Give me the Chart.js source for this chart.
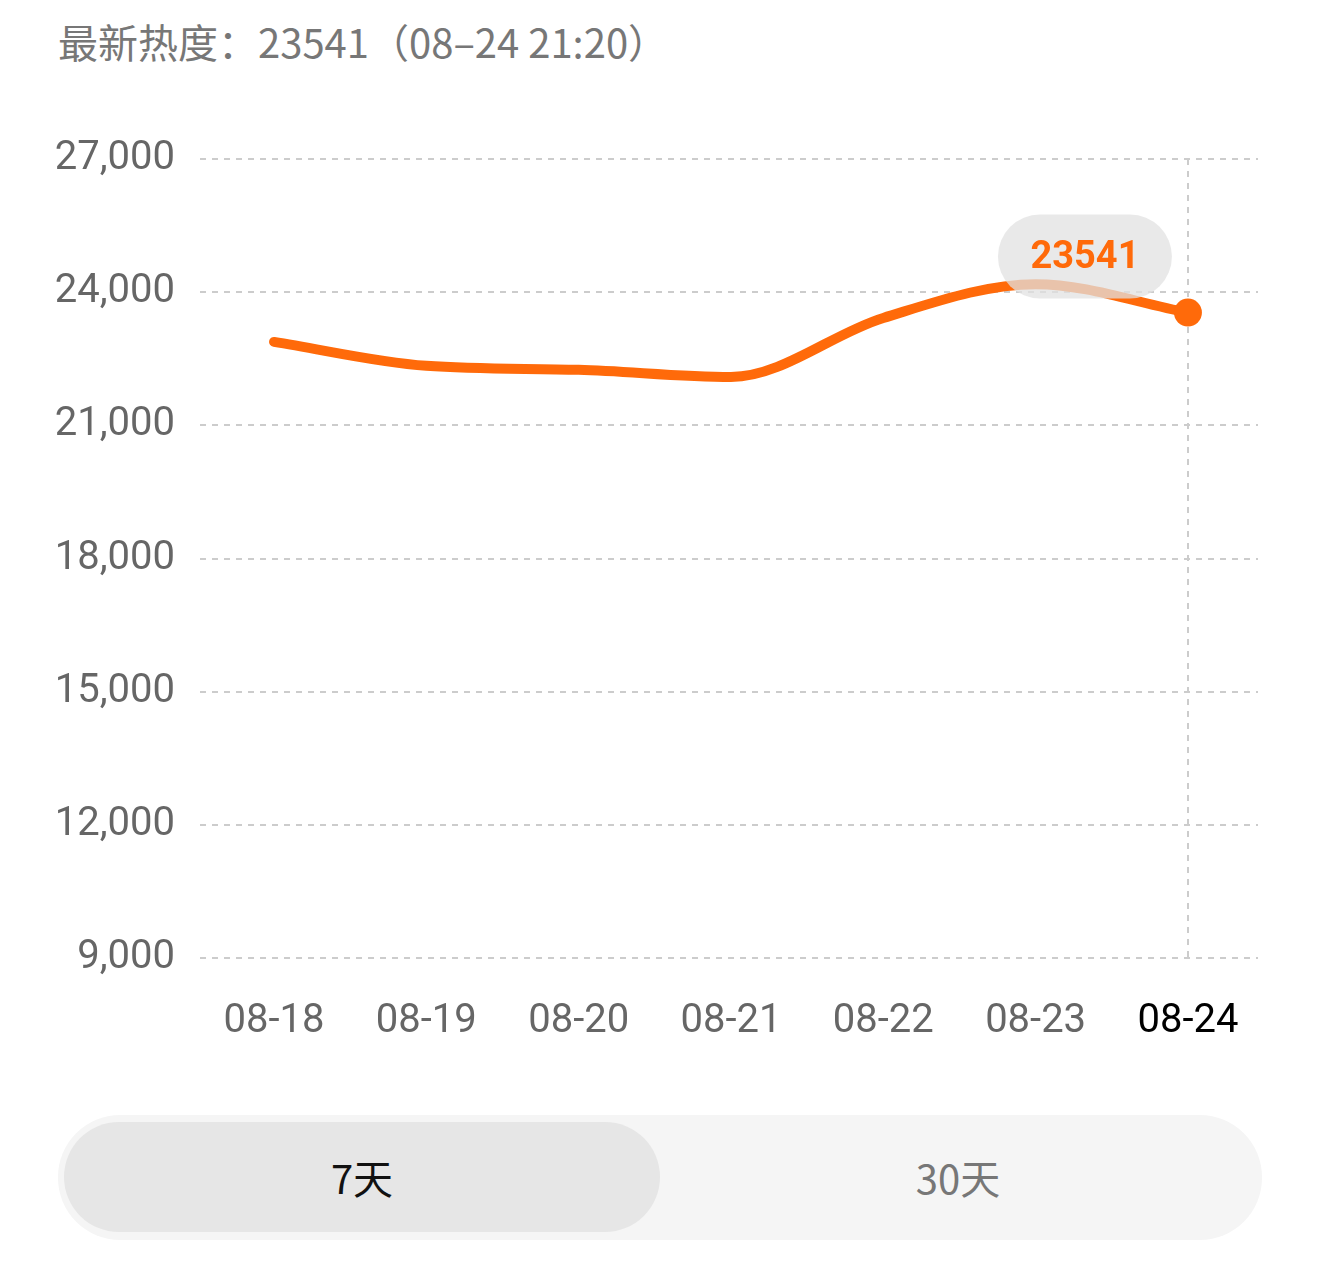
<!DOCTYPE html>
<html><head><meta charset="utf-8">
<script src="https://cdn.jsdelivr.net/npm/chart.js@4"></script>
<style>
body{margin:0;width:1320px;height:1266px;background:#fff;position:relative;font-family:"Noto Sans CJK SC","Noto Sans",sans-serif;overflow:hidden}
#title{position:absolute;left:58px;top:12px;font-size:40px;color:#777}
#wrap{position:absolute;left:0;top:100px;width:1320px;height:1000px}
#tabs{position:absolute;left:58px;top:1115px;width:1204px;height:125px;background:#f5f5f5;border-radius:62px}
.tab{position:absolute;top:7px;height:110px;line-height:110px;text-align:center;font-size:40px;border-radius:55px}
</style></head><body>
<div id="title">最新热度：23541（08–24 21:20）</div>
<div id="wrap"><canvas id="c"></canvas></div>
<div id="tabs">
<div class="tab" style="left:6px;width:596px;background:#e6e6e6;color:#111">7天</div>
<div class="tab" style="left:602px;width:596px;color:#777">30天</div>
</div>
<script>
var dates = ["08-18","08-19","08-20","08-21","08-22","08-23","08-24"];
var heat = [22880, 22340, 22250, 22090, 23420, 24180, 23541];
var yTicks = [9000, 12000, 15000, 18000, 21000, 24000, 27000];

var pill = {
  id: "pill",
  afterDatasetsDraw(chart) {
    var ctx = chart.ctx, pt = chart.getDatasetMeta(0).data[dates.length - 1];
    var cx = pt.x - 103, cy = pt.y - 56, w = 174, h = 84;
    ctx.save();
    ctx.fillStyle = "rgba(225,225,225,0.75)";
    ctx.beginPath();
    ctx.roundRect(cx - w / 2, cy - h / 2, w, h, 42);
    ctx.fill();
    ctx.fillStyle = "#ff6a0a";
    ctx.font = "bold 38px Roboto";
    ctx.textAlign = "center";
    ctx.textBaseline = "middle";
    ctx.fillText(String(heat[heat.length - 1]), cx, cy + 2);
    ctx.restore();
  }
};

new Chart(document.getElementById("c"), {
  type: "line",
  data: {
    datasets: [{
      data: heat.map((v, i) => ({ x: i, y: v })),
      borderColor: "#ff6a0a",
      borderWidth: 10,
      borderCapStyle: "round",
      tension: 0.4,
      cubicInterpolationMode: "monotone",
      pointRadius: heat.map((v, i) => i === heat.length - 1 ? 14 : 0),
      pointBackgroundColor: "#ff6a0a",
      pointBorderWidth: 0
    }]
  },
  options: {
    responsive: true,
    maintainAspectRatio: false,
    animation: false,
    layout: { padding: { top: 59, right: 62, bottom: 0 } },
    plugins: { legend: { display: false }, tooltip: { enabled: false } },
    scales: {
      x: {
        type: "linear",
        min: -0.486,
        max: 6.46,
        afterBuildTicks: s => { s.ticks = dates.map((d, i) => ({ value: i })); },
        afterFit: s => { s.height = 142; },
        ticks: {
          padding: 40,
          font: { size: 40, family: "Roboto" },
          color: c => c.index === dates.length - 1 ? "#000" : "#666",
          callback: v => dates[v]
        },
        grid: {
          drawTicks: false,
          color: c => c.tick && c.tick.value === dates.length - 1 ? "#ccc" : "transparent",
          lineWidth: 2
        },
        border: { display: false, dash: [6, 6] }
      },
      y: {
        min: 9000,
        max: 27000,
        afterBuildTicks: s => { s.ticks = yTicks.map(v => ({ value: v })); },
        afterFit: s => { s.width = 200; },
        ticks: { padding: 25, font: { size: 40, family: "Roboto" }, color: "#666" },
        grid: { drawTicks: false, color: "#ccc", lineWidth: 2 },
        border: { display: false, dash: [6, 6] }
      }
    }
  },
  plugins: [pill]
});
</script>
</body></html>
